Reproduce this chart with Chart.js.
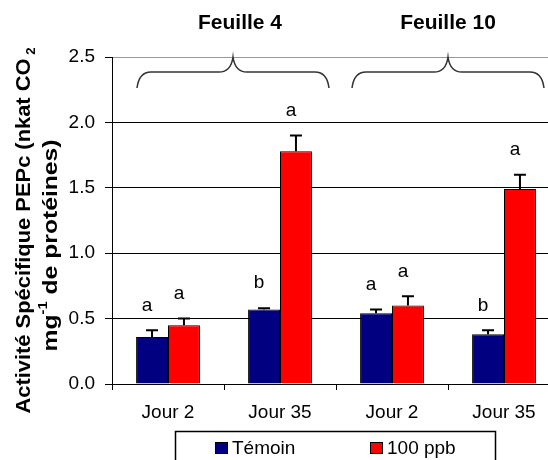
<!DOCTYPE html>
<html>
<head>
<meta charset="utf-8">
<script src="https://cdn.jsdelivr.net/npm/chart.js@4"></script>
<style>
  html, body { margin: 0; padding: 0; background: #fff; overflow: hidden; }
  #wrap { position: relative; width: 570px; height: 460px; }
</style>
</head>
<body>
<div id="wrap"><canvas id="chart"></canvas></div>
<script>
const categories = ['Jour 2', 'Jour 35', 'Jour 2', 'Jour 35']
const groups = ['Feuille 4', 'Feuille 10']
const temoin = [0.36, 0.57, 0.54, 0.38]
const temoinErr = [0.05, 0.01, 0.03, 0.03]
const ppb100 = [0.45, 1.78, 0.60, 1.49]
const ppb100Err = [0.05, 0.12, 0.07, 0.11]
const temoinLetters = ['a', 'b', 'a', 'b']
const ppb100Letters = ['a', 'a', 'a', 'a']
const seriesNames = ['Témoin', '100 ppb']

const FONT = "'Liberation Sans', Arial, sans-serif"

// error bars + significance letters on top of each bar
const errorBars = {
    id: 'errorBars',
    afterDatasetsDraw(chart) {
        const ctx = chart.ctx
        const y = chart.scales.y
        chart.data.datasets.forEach((ds, i) => {
            const meta = chart.getDatasetMeta(i)
            meta.data.forEach((bar, j) => {
                const top = y.getPixelForValue(ds.data[j] + ds.errors[j])
                ctx.save()
                ctx.strokeStyle = '#000'
                ctx.lineWidth = 2
                ctx.beginPath()
                ctx.moveTo(bar.x, bar.y)
                ctx.lineTo(bar.x, top)
                ctx.moveTo(bar.x - 6, top)
                ctx.lineTo(bar.x + 6, top)
                ctx.stroke()
                ctx.fillStyle = '#000'
                ctx.font = '19px ' + FONT
                ctx.textAlign = 'center'
                ctx.textBaseline = 'middle'
                ctx.fillText(ds.letters[j], bar.x - 5, top - 25)
                ctx.restore()
            })
        })
    }
}

// braces + group titles above the plot
const braces = {
    id: 'braces',
    afterDraw(chart, args, opts) {
        const ctx = chart.ctx
        const x = chart.scales.x
        const top = chart.chartArea.top
        groups.forEach((name, g) => {
            const a = x.getPixelForValue(2 * g)
            const b = x.getPixelForValue(2 * g + 1)
            const cx = (a + b) / 2 + opts.braceShift[g]
            const L = cx - 96, R = cx + 96
            const h = top + 15, e = top + 31
            ctx.save()
            ctx.strokeStyle = '#333'
            ctx.lineWidth = 1.5
            ctx.beginPath()
            ctx.moveTo(L, e)
            ctx.quadraticCurveTo(L + 2, h, L + 14, h)
            ctx.lineTo(cx - 14, h)
            ctx.quadraticCurveTo(cx - 2, h, cx, top)
            ctx.quadraticCurveTo(cx + 2, h, cx + 14, h)
            ctx.lineTo(R - 14, h)
            ctx.quadraticCurveTo(R - 2, h, R, e)
            ctx.stroke()
            ctx.fillStyle = '#000'
            ctx.font = 'bold 21px ' + FONT
            ctx.textAlign = 'center'
            ctx.textBaseline = 'middle'
            ctx.fillText(name, (a + b) / 2 + opts.titleShift[g], 23)
            ctx.restore()
        })
    }
}

// two-line y title with sub/superscripts, stretched to the original length
const yTitle = {
    id: 'yTitle',
    afterDraw(chart) {
        const ctx = chart.ctx
        const mid = (chart.chartArea.top + chart.chartArea.bottom) / 2
        const big = 'bold 20px ' + FONT
        const small = 'bold 12px ' + FONT
        const lines = [
            { x: 24, c: mid + 10, len: 366, parts: [['Activité Spécifique PEPc (nkat CO', big, 0], [' 2', small, 8]] },
            { x: 51, c: mid + 25, len: 212, parts: [['mg', big, 0], ['-1', small, -7], [' de protéines)', big, 0]] }
        ]
        ctx.save()
        ctx.fillStyle = '#000'
        ctx.textBaseline = 'middle'
        lines.forEach(line => {
            let w = 0
            line.parts.forEach(p => { ctx.font = p[1]; w += ctx.measureText(p[0]).width })
            ctx.save()
            ctx.translate(line.x, line.c)
            ctx.rotate(-Math.PI / 2)
            ctx.scale(line.len / w, 1)
            let px = -w / 2
            line.parts.forEach(p => {
                ctx.font = p[1]
                ctx.textAlign = 'left'
                ctx.fillText(p[0], px, p[2])
                px += ctx.measureText(p[0]).width
            })
            ctx.restore()
        })
        ctx.restore()
    }
}

// boxed legend under the axis
const boxLegend = {
    id: 'boxLegend',
    afterDraw(chart) {
        const ctx = chart.ctx
        ctx.save()
        ctx.strokeStyle = '#000'
        ctx.lineWidth = 1.5
        ctx.strokeRect(175.5, 431.5, 320, 40)
        const itemX = [215, 370]
        chart.data.datasets.forEach((ds, i) => {
            ctx.fillStyle = ds.backgroundColor
            ctx.fillRect(itemX[i], 442, 13, 12)
            ctx.lineWidth = 1
            ctx.strokeStyle = '#000'
            ctx.strokeRect(itemX[i] + 0.5, 442.5, 12, 11)
            ctx.fillStyle = '#000'
            ctx.font = '19px ' + FONT
            ctx.textBaseline = 'middle'
            ctx.textAlign = 'left'
            ctx.fillText(ds.label, itemX[i] + 17, 449)
        })
        ctx.restore()
    }
}

const chart = new Chart(document.getElementById('chart'), {
    type: 'bar',
    data: {
        labels: categories,
        datasets: [{
            label: seriesNames[0],
            data: temoin,
            errors: temoinErr,
            letters: temoinLetters,
            backgroundColor: '#000080',
            borderColor: '#000',
            borderWidth: 1,
        }, {
            label: seriesNames[1],
            data: ppb100,
            errors: ppb100Err,
            letters: ppb100Letters,
            backgroundColor: '#ff0000',
            borderColor: '#000',
            borderWidth: 1,
        }]
    },
    options: {
        responsive: true,
        maintainAspectRatio: false,
        animation: false,
        categoryPercentage: 0.57,
        barPercentage: 1,
        layout: { padding: { top: 57, right: 10, left: 0, bottom: 0 } },
        plugins: {
            legend: { display: false },
            tooltip: { enabled: false },
            braces: { braceShift: [9, 0], titleShift: [16, 0] },
        },
        scales: {
            x: {
                afterFit: s => { s.height = 76 },
                grid: { offset: true, drawOnChartArea: false, tickLength: 6, color: '#000' },
                border: { color: '#000', width: 1 },
                ticks: { color: '#000', padding: 11, font: { family: FONT, size: 19 } },
            },
            y: {
                min: 0,
                max: 2.5,
                afterFit: s => { s.width = 112 },
                grid: {
                    color: c => c.tick && c.tick.value === 2.5 ? '#999' : '#000',
                    tickColor: '#000',
                    tickLength: 7,
                },
                border: { color: '#000', width: 1 },
                ticks: {
                    stepSize: 0.5,
                    color: '#000',
                    padding: 10,
                    font: { family: FONT, size: 19 },
                    callback: v => v.toFixed(1),
                },
            },
        },
    },
    plugins: [errorBars, braces, yTitle, boxLegend],
})
</script>
</body>
</html>
